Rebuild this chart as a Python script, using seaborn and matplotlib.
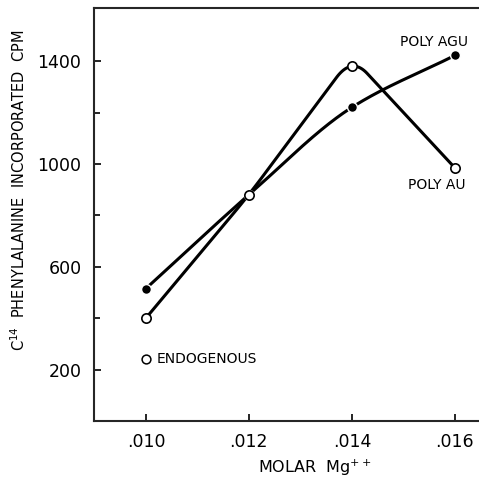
import numpy as np
import pandas as pd
import matplotlib
matplotlib.use("Agg")
import matplotlib.pyplot as plt
import seaborn as sns

# data
molar = [0.010, 0.012, 0.014, 0.016]
poly_agu = [515, 880, 1220, 1422]
poly_au = [400, 880, 1380, 985]
endo_x = [0.010]
endo_y = [240]
x_ticks = [0.010, 0.012, 0.014, 0.016]
x_ticklabels = ['.010', '.012', '.014', '.016']
y_ticks = [200, 600, 1000, 1400]


def pchip(x, y, n=200):
    # monotone cubic curve through the points (only for drawing the smooth line)
    x = np.asarray(x, float)
    y = np.asarray(y, float)
    h = np.diff(x)
    d = np.diff(y) / h
    m = np.zeros_like(y)
    for k in range(1, len(x) - 1):
        if d[k - 1] * d[k] > 0:
            w1 = 2 * h[k] + h[k - 1]
            w2 = h[k] + 2 * h[k - 1]
            m[k] = (w1 + w2) / (w1 / d[k - 1] + w2 / d[k])
    m[0] = d[0]
    m[-1] = d[-1]
    xs, ys = [], []
    for k in range(len(x) - 1):
        t = np.linspace(0, 1, n)
        h00 = 2 * t**3 - 3 * t**2 + 1
        h10 = t**3 - 2 * t**2 + t
        h01 = -2 * t**3 + 3 * t**2
        h11 = t**3 - t**2
        xs.append(x[k] + t * h[k])
        ys.append(h00 * y[k] + h10 * h[k] * m[k] + h01 * y[k + 1] + h11 * h[k] * m[k + 1])
    return np.concatenate(xs), np.concatenate(ys)


def rounded(x, y, f=0.15, n=60):
    # straight segments with rounded corners; each rounded corner passes through its point
    p = np.column_stack([x, y]).astype(float)
    corners = [p[0]]
    for k in range(1, len(p) - 1):
        corners.append((p[k] - 0.25 * f * (p[k - 1] + p[k + 1])) / (1 - 0.5 * f))
    corners.append(p[-1])
    out = [p[0]]
    t = np.linspace(0, 1, n)[:, None]
    for k in range(1, len(corners) - 1):
        c = corners[k]
        a = c + f * (corners[k - 1] - c)
        b = c + f * (corners[k + 1] - c)
        out.extend((1 - t)**2 * a + 2 * t * (1 - t) * c + t**2 * b)
    out.append(p[-1])
    out = np.array(out)
    return out[:, 0], out[:, 1]


sns.set_style('ticks')
plt.rcParams['font.family'] = ['DejaVu Sans']
plt.rcParams['text.color'] = 'black'
plt.rcParams['xtick.color'] = 'black'
plt.rcParams['ytick.color'] = 'black'
plt.rcParams['axes.labelcolor'] = 'black'

fig = plt.figure(figsize=(4.79, 4.80), dpi=100)
ax = fig.add_axes([0.196, 0.123, 0.804, 0.860])

cx, cy = pchip(molar, poly_agu)
sns.lineplot(x=cx, y=cy, ax=ax, color='black', linewidth=2.2, sort=False)
cx, cy = rounded(molar, poly_au)
sns.lineplot(x=cx, y=cy, ax=ax, color='black', linewidth=2.2, sort=False)

sns.scatterplot(x=molar, y=poly_agu, ax=ax, s=50, color='black', edgecolor='white', linewidth=1.0, zorder=5)
sns.scatterplot(x=molar, y=poly_au, ax=ax, s=45, color='white', edgecolor='black', linewidth=1.2, zorder=5)
sns.scatterplot(x=endo_x, y=endo_y, ax=ax, s=40, color='white', edgecolor='black', linewidth=1.1, zorder=5)

ax.text(0.01559, 1474, 'POLY AGU', fontsize=10, ha='center', va='center')
ax.text(0.01565, 918, 'POLY AU', fontsize=10, ha='center', va='center')
ax.text(0.01021, 240, 'ENDOGENOUS', fontsize=10, ha='left', va='center')

ax.set_xlim(0.00899, 0.01647)
ax.set_ylim(0, 1606)
ax.set_xticks(x_ticks)
ax.set_xticklabels(x_ticklabels)
ax.set_yticks(y_ticks)
ax.set_yticks([400, 800, 1200], minor=True)
ax.tick_params(axis='both', which='both', direction='in', labelsize=12.5, width=1.2, length=5, pad=9)
ax.tick_params(axis='y', which='minor', length=4)

ax.spines['right'].set_visible(False)
for s in ['left', 'bottom', 'top']:
    ax.spines[s].set_linewidth(1.5)

ax.set_xlabel('MOLAR  Mg$^{++}$', fontsize=11.5)
ax.set_ylabel('C$^{14}$  PHENYLALANINE  INCORPORATED  CPM', fontsize=10.5)
ax.xaxis.set_label_coords(0.574, -0.09)
ax.yaxis.set_label_coords(-0.171, 0.559)

fig.savefig('out.png', dpi=100)
